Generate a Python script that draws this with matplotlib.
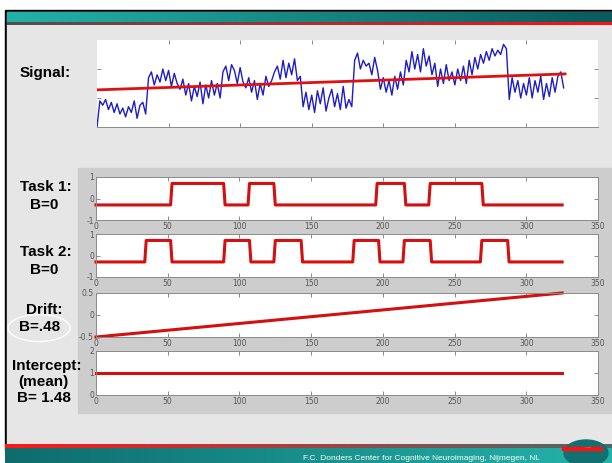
import numpy as np
import matplotlib.pyplot as plt
from matplotlib.patches import Rectangle, Ellipse
from matplotlib.colors import LinearSegmentedColormap

plt.rcParams['axes.unicode_minus'] = False

W, H = 612, 463

# measured signal, one value every 2 scans
signal_x = np.arange(0, 328, 2)
signal_y = [0.0, 0.9, 0.75, 0.95, 0.6, 0.85, 0.5, 0.8, 0.45, 0.65,
            0.35, 0.7, 0.5, 0.9, 0.3, 0.75, 0.85, 0.45, 1.7, 1.9,
            1.45, 1.8, 1.55, 2.0, 1.6, 1.95, 1.4, 1.85, 1.5, 1.3,
            1.65, 1.1, 1.5, 0.9, 1.4, 1.05, 1.55, 0.8, 1.45, 1.0,
            1.6, 1.1, 1.5, 1.0, 1.9, 2.1, 1.6, 2.15, 1.95, 1.5,
            2.05, 1.55, 1.35, 1.7, 1.2, 1.6, 0.95, 1.5, 1.1, 1.75,
            1.4, 1.6, 1.9, 2.1, 1.65, 2.3, 1.7, 2.2, 1.8, 2.35,
            1.6, 1.75, 0.7, 1.2, 0.6, 1.1, 0.5, 1.25, 0.8, 1.35,
            0.55, 1.0, 1.3, 0.7, 1.15, 0.6, 1.4, 0.65, 0.95, 0.7,
            2.3, 2.55, 2.0, 2.3, 2.1, 2.2, 1.8, 2.4, 1.95, 1.3,
            1.7, 1.2, 1.6, 1.1, 1.75, 1.3, 1.9, 1.45, 2.3, 1.9,
            2.6, 2.0, 2.5, 1.9, 2.7, 2.1, 2.45, 1.8, 2.2, 1.4,
            2.0, 1.5, 2.15, 1.6, 1.9, 1.45, 2.0, 1.6, 2.1, 1.5,
            2.3, 1.8, 2.4, 2.0, 2.5, 2.2, 2.6, 2.3, 2.7, 2.45,
            2.65, 2.5, 2.85, 2.7, 0.95, 1.7, 1.2, 1.6, 1.0, 1.5,
            1.1, 1.7, 1.0, 1.6, 1.2, 1.75, 0.95, 1.5, 1.05, 1.7,
            1.2, 1.75, 1.9, 1.35]
fit_x = [0, 327]
fit_y = [1.28, 1.83]

# design matrix regressors
scans = np.arange(0, 326)
task1_on = [53, 107, 196, 233]
task1_off = [89, 124, 215, 269]
task2_on = [35, 90, 125, 180, 215, 269]
task2_off = [52, 107, 143, 197, 233, 287]
task_low, task_high = -0.3, 0.7
drift_x = [0, 325]
drift_y = [-0.5, 0.5]
icpt_x = [0, 325]
icpt_y = [1.0, 1.0]
xticks = [0, 50, 100, 150, 200, 250, 300, 350]

footer = 'F.C. Donders Center for Cognitive Neuroimaging, Nijmegen, NL'


def boxcar(on, off):
    y = np.full(len(scans), task_low)
    for a, b in zip(on, off):
        y[(scans >= a) & (scans <= b)] = task_high
    return y


def box(x0, y0, x1, y1):
    return [x0 / W, 1 - y1 / H, (x1 - x0) / W, (y1 - y0) / H]


def gradient(ax, x0, y0, x1, y1, c0, c1):
    cm = LinearSegmentedColormap.from_list('g', [c0, c1])
    ax.imshow(np.linspace(0, 1, 256)[None, :], cmap=cm, aspect='auto',
              extent=[x0, x1, y1, y0], interpolation='bilinear', zorder=2)


fig = plt.figure(figsize=(W / 100, H / 100), dpi=100, facecolor='white')

# slide background
bg = fig.add_axes([0, 0, 1, 1])
bg.set_xlim(0, W)
bg.set_ylim(H, 0)
bg.axis('off')
bg.add_patch(Rectangle((5, 10), W, 440, color='black', zorder=1))
bg.add_patch(Rectangle((7, 12), W, 436, color='#e6e6e6', zorder=1))
bg.add_patch(Rectangle((78, 168), W, 245, color='#cdcdcd', zorder=1))
gradient(bg, 7, 12, W, 22, '#22b2a8', '#0b5a5d')
gradient(bg, 7, 22, W, 25, '#505050', '#ff1010')
gradient(bg, 5, 444, W, 448, '#ff1818', '#4a6a6a')
gradient(bg, 5, 448, W, H, '#0e6c6c', '#24b4ab')
bg.add_patch(Ellipse((586, 453), 44, 26, color='#137070', zorder=3))
bg.add_patch(Rectangle((562, 447), 40, 3, color='#ff1010', zorder=4))
bg.text(588, 446.5, '......', color='white', fontsize=3, ha='center', va='center', zorder=5)
bg.text(421, 458, footer, color='white', fontsize=6, family='Liberation Sans',
        ha='center', va='center', zorder=5)

lab = dict(fontsize=11, fontweight='bold', ha='center', va='center',
           family=['Liberation Sans', 'DejaVu Sans'], zorder=5)
bg.text(45, 73, 'Signal:', **lab)
bg.text(46, 187, 'Task 1:', **lab)
bg.text(44, 205, 'B=0', **lab)
bg.text(46, 252, 'Task 2:', **lab)
bg.text(44, 270, 'B=0', **lab)
bg.text(44, 310, 'Drift:', **lab)
bg.text(40, 327, 'B=.48', **lab)
bg.text(47, 366, 'Intercept:', **lab)
bg.text(43, 382, '(mean)', **lab)
bg.text(44, 398, 'B= 1.48', **lab)
bg.add_patch(Ellipse((39, 328), 62, 27, fill=False, edgecolor='white', lw=1, zorder=5))


def style(ax):
    ax.set_facecolor('white')
    ax.set_xlim(0, 350)
    ax.set_xticks(xticks)
    ax.tick_params(direction='in', top=True, right=True, length=3, width=0.6,
                   color='#777777', labelsize=5.5, labelcolor='#555555', pad=1.5)
    for s in ax.spines.values():
        s.set_color('#8a8a8a')
        s.set_linewidth(0.7)


# signal panel
ax0 = fig.add_axes(box(97, 40, 598, 127))
style(ax0)
ax0.set_ylim(0, 3)
ax0.set_yticks([1, 2])
ax0.set_xticks(xticks[1:-1])
ax0.tick_params(labelbottom=False, labelleft=False)
for k in ['top', 'left', 'right']:
    ax0.spines[k].set_visible(False)
ax0.plot(signal_x, signal_y, color='#1c1cc8', lw=1)
ax0.plot(fit_x, fit_y, color='#e01010', lw=2)

red = dict(color='#d40f0f', lw=2.2)
panels = [
    ((177, 220), (-1, 1), [-1, 0, 1], ['-1', '0', '1'], scans, boxcar(task1_on, task1_off)),
    ((234, 277), (-1, 1), [-1, 0, 1], ['-1', '0', '1'], scans, boxcar(task2_on, task2_off)),
    ((293, 337), (-0.5, 0.5), [-0.5, 0, 0.5], ['-0.5', '0', '0.5'], drift_x, drift_y),
    ((351, 395), (0, 2), [0, 1, 2], ['0', '1', '2'], icpt_x, icpt_y),
]
for (y0, y1), lim, yt, ytl, xs, ys in panels:
    ax = fig.add_axes(box(96, y0, 598, y1))
    style(ax)
    ax.set_ylim(lim)
    ax.set_yticks(yt)
    ax.set_yticklabels(ytl)
    ax.plot(xs, ys, clip_on=False, **red)

fig.savefig('out.png', dpi=100, facecolor='white')
